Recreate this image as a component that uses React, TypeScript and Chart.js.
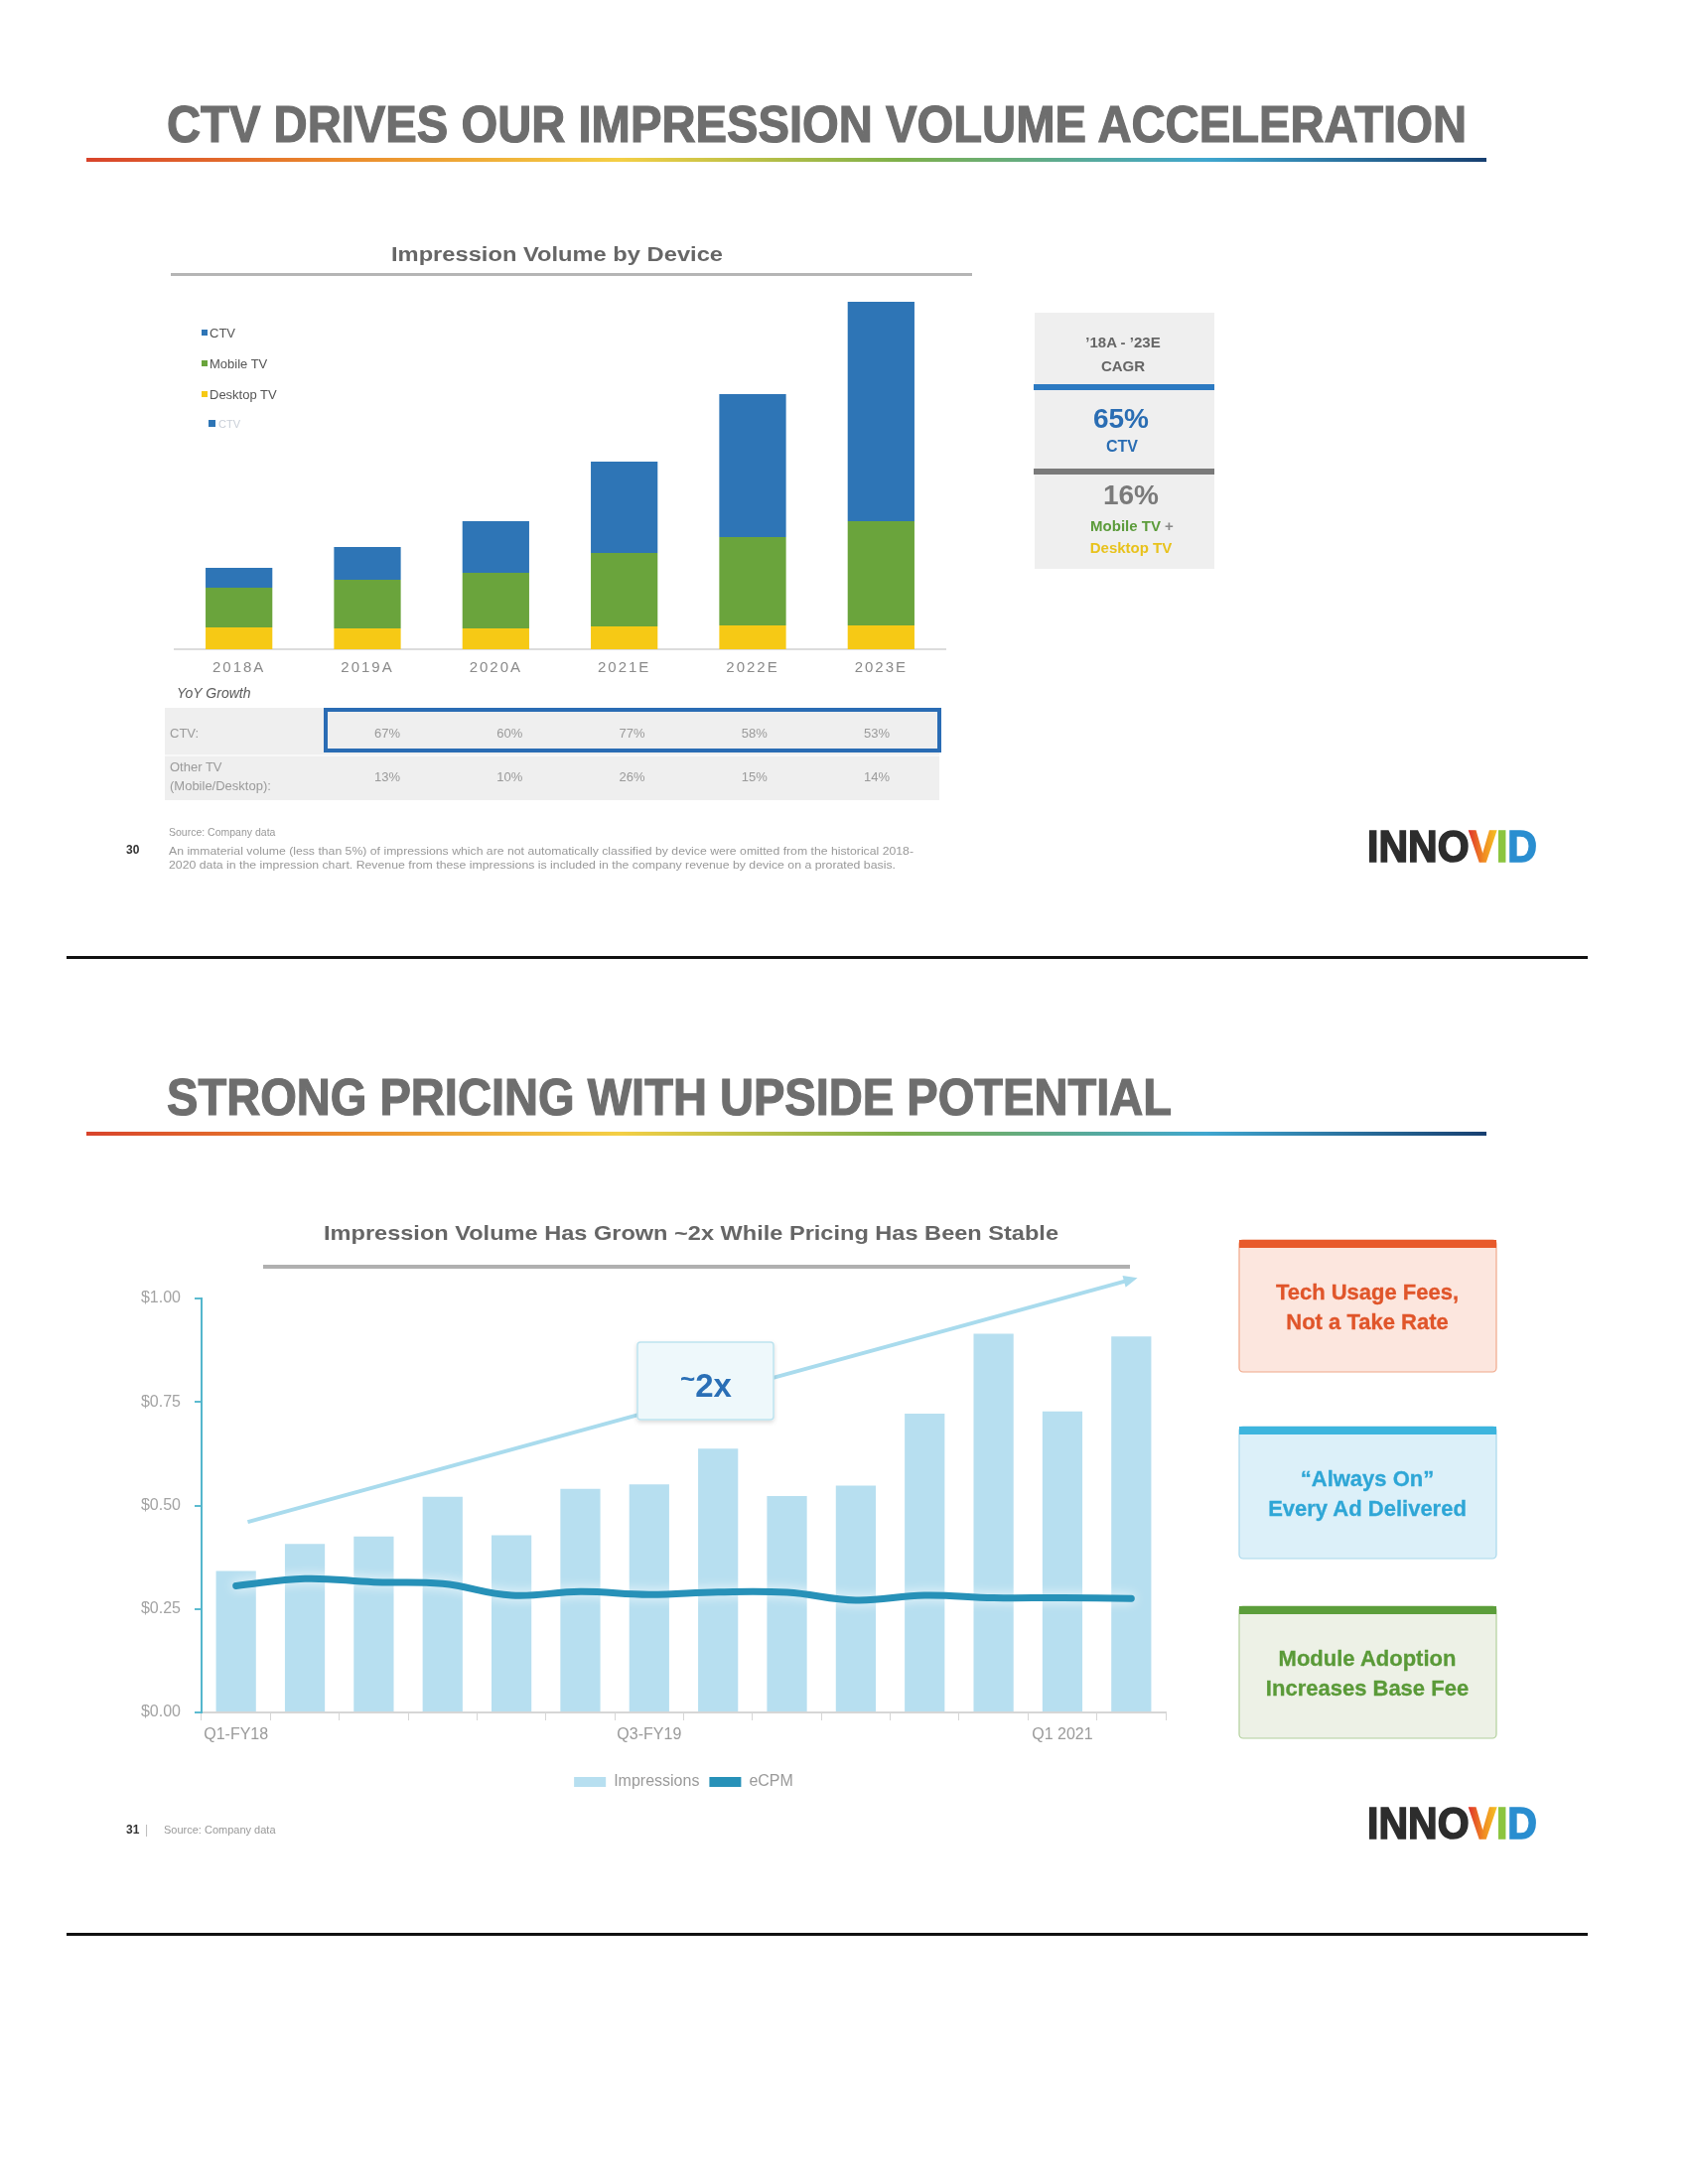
import React, { useEffect, useRef } from "react";
import { Chart, registerables } from "chart.js";

Chart.register(...registerables);

const FONT = "'Liberation Sans', Arial, Helvetica, sans-serif";
Chart.defaults.font.family = FONT;

// ---------- Slide 1 data: Impression Volume by Device ----------
const deviceYears = ["2018A", "2019A", "2020A", "2021E", "2022E", "2023E"];
const desktopTV = [22, 21, 21, 23, 24, 24];
const mobileTV = [40, 49, 56, 74, 89, 105];
const ctvVolume = [20, 33, 52, 92, 144, 221];
const volumeMax = 370;

const ctvYoY = ["67%", "60%", "77%", "58%", "53%"];
const otherYoY = ["13%", "10%", "26%", "15%", "14%"];

// ---------- Slide 2 data: Impressions vs eCPM ----------
const quarters = [
  "Q1-FY18", "Q2-FY18", "Q3-FY18", "Q4-FY18", "Q1-FY19", "Q2-FY19", "Q3-FY19",
  "Q4-FY19", "Q1-FY20", "Q2-FY20", "Q3-FY20", "Q4-FY20", "Q1 2021", "Q2 2021",
];
const quarterTickLabels = [
  "Q1-FY18", "", "", "", "", "", "Q3-FY19", "", "", "", "", "", "Q1 2021", "",
];
const impressions = [0.342, 0.407, 0.425, 0.521, 0.428, 0.54, 0.551, 0.637, 0.523, 0.548, 0.722, 0.915, 0.727, 0.908];
const ecpm = [0.306, 0.323, 0.315, 0.311, 0.283, 0.292, 0.285, 0.291, 0.29, 0.271, 0.283, 0.277, 0.277, 0.275];
const priceTickLabels = ["$0.00", "$0.25", "$0.50", "$0.75", "$1.00"];
const arrowFrom = { x: 0.17, y: 0.46 };
const arrowTo = { x: 13.09, y: 1.05 };

function DeviceChart() {
  const ref = useRef<HTMLCanvasElement>(null);
  useEffect(() => {
    const chart = new Chart(ref.current!, {
      type: "bar",
      data: {
        labels: deviceYears,
        datasets: [
          { label: "Desktop TV", data: desktopTV, backgroundColor: "#f6c915" },
          { label: "Mobile TV", data: mobileTV, backgroundColor: "#6aa43c" },
          { label: "CTV", data: ctvVolume, backgroundColor: "#2e75b6" },
        ],
      },
      options: {
        animation: false,
        responsive: false,
        maintainAspectRatio: false,
        layout: { padding: { left: 6, right: 8, top: 0, bottom: 0 } },
        plugins: { legend: { display: false }, tooltip: { enabled: false } },
        datasets: { bar: { barPercentage: 0.52, categoryPercentage: 1 } },
        scales: {
          x: {
            stacked: true,
            grid: { display: false, drawTicks: false },
            border: { display: true, color: "#dcdcdc", width: 2 },
            ticks: { padding: 10, color: "#8a8a8a", font: { size: 15 } },
            afterFit: (s: any) => { s.height = 30; },
          },
          y: { stacked: true, display: false, min: 0, max: volumeMax },
        },
      },
      plugins: [
        {
          id: "spacing",
          beforeDraw(c: any) { c.ctx.letterSpacing = "2px"; },
          afterDraw(c: any) { c.ctx.letterSpacing = "0px"; },
        },
      ],
    } as any);
    return () => chart.destroy();
  }, []);
  return (
    <canvas
      ref={ref}
      width={790}
      height={400}
      style={{ position: "absolute", left: 170, top: 284, width: 790, height: 400 }}
    />
  );
}

function PricingChart() {
  const ref = useRef<HTMLCanvasElement>(null);
  useEffect(() => {
    const barColor = "#b7dff0";
    const lineColor = "#2791b8";
    const chart = new Chart(ref.current!, {
      type: "bar",
      data: {
        labels: quarters,
        datasets: [
          {
            type: "bar",
            label: "Impressions",
            data: impressions,
            backgroundColor: barColor,
            barPercentage: 0.58,
            categoryPercentage: 1,
            order: 2,
          },
          {
            type: "line",
            label: "eCPM",
            data: ecpm,
            borderColor: lineColor,
            backgroundColor: lineColor,
            borderWidth: 7,
            tension: 0.4,
            pointRadius: 0,
            fill: false,
            borderCapStyle: "round",
            order: 1,
          },
        ],
      },
      options: {
        animation: false,
        responsive: false,
        maintainAspectRatio: false,
        layout: { padding: { left: 0, right: 16, top: 38, bottom: 0 } },
        plugins: {
          tooltip: { enabled: false },
          legend: {
            position: "bottom",
            fullSize: false,
            labels: {
              boxWidth: 32,
              boxHeight: 10,
              padding: 10,
              color: "#9a9a9a",
              font: { size: 16 },
              sort: (a: any, b: any) => a.datasetIndex - b.datasetIndex,
              generateLabels: (c: any) => {
                const items = Chart.defaults.plugins.legend.labels.generateLabels(c);
                return items.map((it: any) => ({
                  ...it,
                  lineWidth: 0,
                  fillStyle: it.datasetIndex === 0 ? barColor : lineColor,
                  strokeStyle: it.datasetIndex === 0 ? barColor : lineColor,
                }));
              },
            },
          },
        },
        scales: {
          x: {
            grid: { drawOnChartArea: false, drawTicks: true, tickLength: 8, color: "#d6d6d6", offset: true },
            border: { color: "#d6d6d6", width: 2 },
            ticks: {
              autoSkip: false,
              maxRotation: 0,
              padding: 5,
              color: "#9a9a9a",
              font: { size: 16 },
              callback: (_v: any, i: number) => quarterTickLabels[i],
            },
            afterFit: (s: any) => { s.height = 52; },
          },
          y: {
            min: 0,
            max: 1,
            grid: { drawOnChartArea: false, drawTicks: true, tickLength: 7, color: "#5cbbd0", lineWidth: 2 },
            border: { color: "#54b6cc", width: 2 },
            ticks: {
              stepSize: 0.25,
              padding: 14,
              color: "#a3a3a3",
              font: { size: 16 },
              callback: (_v: any, i: number) => priceTickLabels[i],
            },
            afterFit: (s: any) => { s.width = 83; },
          },
        },
      },
      plugins: [
        {
          id: "glow",
          beforeDatasetDraw(c: any, args: any) {
            if (args.index === 1) {
              c.ctx.save();
              c.ctx.shadowColor = "rgba(255,255,255,0.9)";
              c.ctx.shadowBlur = 12;
            }
          },
          afterDatasetDraw(c: any, args: any) {
            if (args.index === 1) c.ctx.restore();
          },
        },
        {
          id: "growthArrow",
          afterDatasetsDraw(c: any) {
            const { ctx, scales } = c;
            const x0 = scales.x.getPixelForValue(arrowFrom.x);
            const y0 = scales.y.getPixelForValue(arrowFrom.y);
            const x1 = scales.x.getPixelForValue(arrowTo.x);
            const y1 = scales.y.getPixelForValue(arrowTo.y);
            const len = Math.hypot(x1 - x0, y1 - y0);
            const ux = (x1 - x0) / len;
            const uy = (y1 - y0) / len;
            const head = 14;
            ctx.save();
            ctx.strokeStyle = "#a9dbed";
            ctx.fillStyle = "#a9dbed";
            ctx.lineWidth = 4;
            ctx.beginPath();
            ctx.moveTo(x0, y0);
            ctx.lineTo(x1 - ux * head * 0.8, y1 - uy * head * 0.8);
            ctx.stroke();
            ctx.beginPath();
            ctx.moveTo(x1, y1);
            ctx.lineTo(x1 - ux * head - uy * 6, y1 - uy * head + ux * 6);
            ctx.lineTo(x1 - ux * head + uy * 6, y1 - uy * head - ux * 6);
            ctx.closePath();
            ctx.fill();
            ctx.restore();
          },
        },
      ],
    } as any);
    return () => chart.destroy();
  }, []);
  return (
    <canvas
      ref={ref}
      width={1070}
      height={543}
      style={{ position: "absolute", left: 120, top: 1270, width: 1070, height: 543 }}
    />
  );
}

function Logo({ y }: { y: number }) {
  return (
    <text
      x={1377}
      y={y}
      fontSize={44}
      fontWeight="bold"
      textLength={171}
      lengthAdjust="spacingAndGlyphs"
      fill="#2d2d2d"
      stroke="#2d2d2d"
      strokeWidth={1.6}
    >
      INNO
      <tspan fill="url(#vgrad)" stroke="url(#vgrad)">V</tspan>
      <tspan fill="#8cc540" stroke="#8cc540">I</tspan>
      <tspan fill="#2a8ed0" stroke="#2a8ed0">D</tspan>
    </text>
  );
}

function InfoBox({ y, bar, bg, border, color, lines }: { y: number; bar: string; bg: string; border: string; color: string; lines: string[] }) {
  return (
    <g>
      <rect x={1248} y={y} width={259} height={133} rx={4} fill={bg} stroke={border} strokeWidth={1.2} />
      <rect x={1248} y={y} width={259} height={8} fill={bar} />
      <text x={1377} y={y + 60} textAnchor="middle" fontSize={22} fontWeight="bold" fill={color} stroke={color} strokeWidth={0.3}>{lines[0]}</text>
      <text x={1377} y={y + 90} textAnchor="middle" fontSize={22} fontWeight="bold" fill={color} stroke={color} strokeWidth={0.3}>{lines[1]}</text>
    </g>
  );
}

function Overlay() {
  const legend = [
    { label: "CTV", color: "#2e75b6", y: 335 },
    { label: "Mobile TV", color: "#6aa43c", y: 366 },
    { label: "Desktop TV", color: "#f6c915", y: 397 },
  ];
  return (
    <svg
      width={1700}
      height={2200}
      style={{ position: "absolute", left: 0, top: 0, pointerEvents: "none" }}
      fontFamily={FONT}
    >
      <defs>
        <linearGradient id="rainbow" x1="0" x2="1" y1="0" y2="0">
          <stop offset="0" stopColor="#d8432b" />
          <stop offset="0.18" stopColor="#ea8a2c" />
          <stop offset="0.38" stopColor="#f4cf45" />
          <stop offset="0.58" stopColor="#7eb04a" />
          <stop offset="0.8" stopColor="#3fa6cf" />
          <stop offset="1" stopColor="#173f70" />
        </linearGradient>
        <linearGradient id="vgrad" gradientUnits="userSpaceOnUse" x1="1480" x2="1508" y1="0" y2="0">
          <stop offset="0" stopColor="#e0392a" />
          <stop offset="0.5" stopColor="#f08a22" />
          <stop offset="1" stopColor="#f5c423" />
        </linearGradient>
        <filter id="sh" x="-20%" y="-20%" width="140%" height="150%">
          <feDropShadow dx="0" dy="2" stdDeviation="2" floodColor="#000" floodOpacity="0.15" />
        </filter>
      </defs>

      {/* ===== Slide 1 ===== */}
      <text x={168} y={143} fontSize={52} fontWeight="bold" fill="#6e6e6e" stroke="#6e6e6e" strokeWidth={1.2} textLength={1309} lengthAdjust="spacingAndGlyphs">
        CTV DRIVES OUR IMPRESSION VOLUME ACCELERATION
      </text>
      <rect x={87} y={159} width={1410} height={4} fill="url(#rainbow)" />

      <text x={394} y={263} fontSize={20} fontWeight="bold" fill="#666" textLength={334} lengthAdjust="spacingAndGlyphs">
        Impression Volume by Device
      </text>
      <rect x={172} y={275} width={807} height={3} fill="#b5b5b5" />

      {legend.map((l) => (
        <g key={l.label}>
          <rect x={203} y={l.y - 3} width={6} height={6} fill={l.color} />
          <text x={211} y={l.y + 4.5} fontSize={13} fill="#555">{l.label}</text>
        </g>
      ))}
      <rect x={210} y={423} width={7} height={7} fill="#2e75b6" />
      <text x={220} y={431} fontSize={11} fill="#c9cfd8">CTV</text>

      <text x={178} y={703} fontSize={14} fontStyle="italic" fill="#5a5a5a">YoY Growth</text>
      <rect x={166} y={713} width={780} height={93} fill="#efefef" />
      <rect x={166} y={760} width={780} height={2} fill="#f8f8f8" />
      <rect x={328} y={715} width={618} height={41} fill="none" stroke="#2a6cb4" strokeWidth={4} />
      <text x={171} y={743} fontSize={13} fill="#9a9a9a">CTV:</text>
      <text x={171} y={777} fontSize={13} fill="#9a9a9a">Other TV</text>
      <text x={171} y={796} fontSize={13} fill="#9a9a9a">(Mobile/Desktop):</text>
      {ctvYoY.map((v, i) => (
        <text key={"c" + i} x={390 + i * 123.25} y={743} textAnchor="middle" fontSize={13} fill="#9a9a9a">{v}</text>
      ))}
      {otherYoY.map((v, i) => (
        <text key={"o" + i} x={390 + i * 123.25} y={787} textAnchor="middle" fontSize={13} fill="#9a9a9a">{v}</text>
      ))}

      {/* CAGR box */}
      <rect x={1042} y={315} width={181} height={258} fill="#efefef" />
      <text x={1131} y={350} textAnchor="middle" fontSize={15} fontWeight="bold" fill="#666">’18A - ’23E</text>
      <text x={1131} y={374} textAnchor="middle" fontSize={15} fontWeight="bold" fill="#666">CAGR</text>
      <rect x={1041} y={387} width={182} height={6} fill="#2c7ac2" />
      <text x={1129} y={431} textAnchor="middle" fontSize={28} fontWeight="bold" fill="#2a6db3">65%</text>
      <text x={1130} y={455} textAnchor="middle" fontSize={16} fontWeight="bold" fill="#2a6db3">CTV</text>
      <rect x={1041} y={472} width={182} height={6} fill="#7a7a7a" />
      <text x={1139} y={508} textAnchor="middle" fontSize={28} fontWeight="bold" fill="#7a7a7a">16%</text>
      <text x={1140} y={535} textAnchor="middle" fontSize={15} fontWeight="bold">
        <tspan fill="#5b9b3a">Mobile TV</tspan>
        <tspan fill="#8a8a8a"> +</tspan>
      </text>
      <text x={1139} y={557} textAnchor="middle" fontSize={15} fontWeight="bold" fill="#e8c21c">Desktop TV</text>

      {/* footnote */}
      <text x={170} y={842} fontSize={10.5} fill="#999">Source:  Company data</text>
      <text x={127} y={860} fontSize={12} fontWeight="bold" fill="#333">30</text>
      <text x={170} y={861} fontSize={10.5} fill="#999" textLength={750} lengthAdjust="spacingAndGlyphs">
        An immaterial volume (less than 5%) of impressions which are not automatically classified by device were omitted from the historical 2018-
      </text>
      <text x={170} y={875} fontSize={10.5} fill="#999" textLength={732} lengthAdjust="spacingAndGlyphs">
        2020 data in the impression chart. Revenue from these impressions is included in the company revenue by device on a prorated basis.
      </text>
      <Logo y={868} />

      <rect x={67} y={963} width={1532} height={3} fill="#111" />

      {/* ===== Slide 2 ===== */}
      <text x={168} y={1123} fontSize={52} fontWeight="bold" fill="#6e6e6e" stroke="#6e6e6e" strokeWidth={1.2} textLength={1012} lengthAdjust="spacingAndGlyphs">
        STRONG PRICING WITH UPSIDE POTENTIAL
      </text>
      <rect x={87} y={1140} width={1410} height={4} fill="url(#rainbow)" />

      <text x={326} y={1249} fontSize={21} fontWeight="bold" fill="#666" textLength={740} lengthAdjust="spacingAndGlyphs">
        Impression Volume Has Grown ~2x While Pricing Has Been Stable
      </text>
      <rect x={265} y={1274} width={873} height={4} fill="#b0b0b0" />

      <g filter="url(#sh)">
        <rect x={642} y={1352} width={137} height={78} rx={3} fill="#eef8fb" stroke="#bde3ef" strokeWidth={1.5} />
      </g>
      <text x={711} y={1407} textAnchor="middle" fontWeight="bold" fill="#2a6fb6">
        <tspan fontSize={26} dy={-9}>~</tspan>
        <tspan fontSize={33} dy={9}>2x</tspan>
      </text>

      <InfoBox y={1249} bar="#e85a2b" bg="#fce6de" border="#f0a88a" color="#e0552a" lines={["Tech Usage Fees,", "Not a Take Rate"]} />
      <InfoBox y={1437} bar="#3db5de" bg="#dcf0f9" border="#a8d8ec" color="#2ea6d6" lines={["“Always On”", "Every Ad Delivered"]} />
      <InfoBox y={1618} bar="#5c9e3b" bg="#edf1e6" border="#b2d09c" color="#5a9a38" lines={["Module Adoption", "Increases Base Fee"]} />

      <text x={127} y={1847} fontSize={12} fontWeight="bold" fill="#333">31</text>
      <text x={146} y={1847} fontSize={12} fill="#bbb">|</text>
      <text x={165} y={1847} fontSize={11} fill="#999">Source:  Company data</text>
      <Logo y={1852} />

      <rect x={67} y={1947} width={1532} height={3} fill="#111" />
    </svg>
  );
}

export default function App() {
  return (
    <div style={{ position: "absolute", left: 0, top: 0, width: 1700, height: 2200, background: "#fff" }}>
      <DeviceChart />
      <PricingChart />
      <Overlay />
    </div>
  );
}
